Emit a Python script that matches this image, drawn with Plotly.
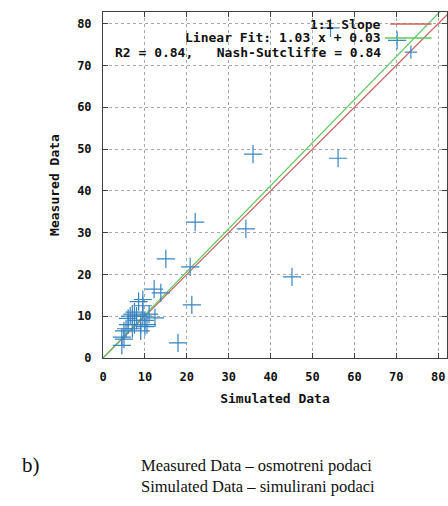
import plotly.graph_objects as go

# ---- data ----
sim = [54.3, 70.2, 35.8, 34.1, 22.0, 15.0, 20.8, 56.1, 45.1, 21.2, 17.9, 12.2, 13.8, 12.4,
       4.5, 4.5, 5.0, 5.0, 5.5, 6.0, 6.0, 6.5, 7.0, 7.0, 7.5, 7.5, 8.0, 8.0, 8.5,
       9.0, 9.0, 9.5, 9.5, 10.0, 10.0, 10.5, 11.0, 9.5]
meas = [79.0, 76.0, 48.8, 30.9, 32.5, 23.7, 21.8, 47.8, 19.4, 12.7, 3.6, 16.5, 15.6, 9.6,
        3.0, 5.0, 4.5, 6.5, 7.0, 8.0, 9.5, 10.0, 7.0, 10.5, 8.0, 11.0, 9.0, 10.0, 13.5,
        6.5, 8.0, 12.5, 10.0, 7.5, 9.0, 8.0, 10.5, 14.0]
slope, intercept = 1.03, 0.03
line_x = [0, 90]
one_to_one_y = [0, 90]
fit_y = [slope * v + intercept for v in line_x]
ticks = [0, 10, 20, 30, 40, 50, 60, 70, 80]

RED = "#c8605a"
GREEN = "#5cc85c"
BLUE = "#3a84c0"
MONO = "DejaVu Sans Mono"

fig = go.Figure()
fig.add_trace(go.Scatter(x=line_x, y=one_to_one_y, mode="lines",
                         line=dict(color=RED, width=1.2), showlegend=False))
fig.add_trace(go.Scatter(x=line_x, y=fit_y, mode="lines",
                         line=dict(color=GREEN, width=1.2), showlegend=False))
fig.add_trace(go.Scatter(x=sim, y=meas, mode="markers",
                         marker=dict(symbol="cross-thin", size=13,
                                     line=dict(color=BLUE, width=1.2)),
                         showlegend=False))

axis_common = dict(
    showline=True, linecolor="#404040", linewidth=1, mirror="ticks",
    ticks="inside", ticklen=5, tickcolor="#404040",
    tickvals=ticks, showgrid=True, gridcolor="#a8a8a8", griddash="dot", gridwidth=1,
    zeroline=False, tickfont=dict(family=MONO, size=12, color="#111111", weight="bold"),
    ticklabelstandoff=8,
)
fig.update_xaxes(range=[0, 82.1], title=dict(text="Simulated Data",
                 font=dict(family=MONO, size=13, color="#111111", weight="bold"), standoff=10),
                 **axis_common)
fig.update_yaxes(range=[0, 82.8], title=dict(text="Measured Data",
                 font=dict(family=MONO, size=13, color="#111111", weight="bold"), standoff=14),
                 **axis_common)

# legend (gnuplot style: text right, sample on right)
leg_font = dict(family=MONO, size=13, color="#111111", weight="bold")
entries = ["1:1 Slope", "Linear Fit: 1.03 x + 0.03", "R2 = 0.84,   Nash-Sutcliffe = 0.84"]
ys = [0.965, 0.925, 0.884]
for t, yy in zip(entries, ys):
    fig.add_annotation(text=t, xref="paper", yref="paper", x=0.813, y=yy,
                       xanchor="right", yanchor="middle", showarrow=False, font=leg_font)
fig.add_shape(type="line", xref="paper", yref="paper", x0=0.835, x1=0.955,
              y0=ys[0], y1=ys[0], line=dict(color=RED, width=1.5))
fig.add_shape(type="line", xref="paper", yref="paper", x0=0.82, x1=0.955,
              y0=ys[1], y1=ys[1], line=dict(color=GREEN, width=1.5))
fig.add_shape(type="line", xref="paper", yref="paper", x0=0.877, x1=0.913,
              y0=ys[2], y1=ys[2], line=dict(color=BLUE, width=1.2))
fig.add_shape(type="line", xref="paper", yref="paper", x0=0.895, x1=0.895,
              y0=ys[2] - 0.019, y1=ys[2] + 0.019, line=dict(color=BLUE, width=1.2))

# caption below chart
cap_font = dict(family="Liberation Serif", size=16.5, color="#111111")
fig.add_annotation(text="b)", xref="paper", yref="paper", x=-0.24, y=-0.31,
                   xanchor="left", yanchor="middle", showarrow=False,
                   font=dict(family="Liberation Serif", size=21, color="#111111"))
fig.add_annotation(text="Measured Data – osmotreni podaci", xref="paper", yref="paper",
                   x=0.105, y=-0.31, xanchor="left", yanchor="middle", showarrow=False,
                   font=cap_font)
fig.add_annotation(text="Simulated Data – simulirani podaci", xref="paper", yref="paper",
                   x=0.105, y=-0.37, xanchor="left", yanchor="middle", showarrow=False,
                   font=cap_font)

fig.update_layout(width=448, height=506, margin=dict(l=103, r=1, t=12, b=148),
                  plot_bgcolor="white", paper_bgcolor="white")
fig.write_html("out.html", config={"displayModeBar": False},
               post_script="document.body.style.margin='0';")
